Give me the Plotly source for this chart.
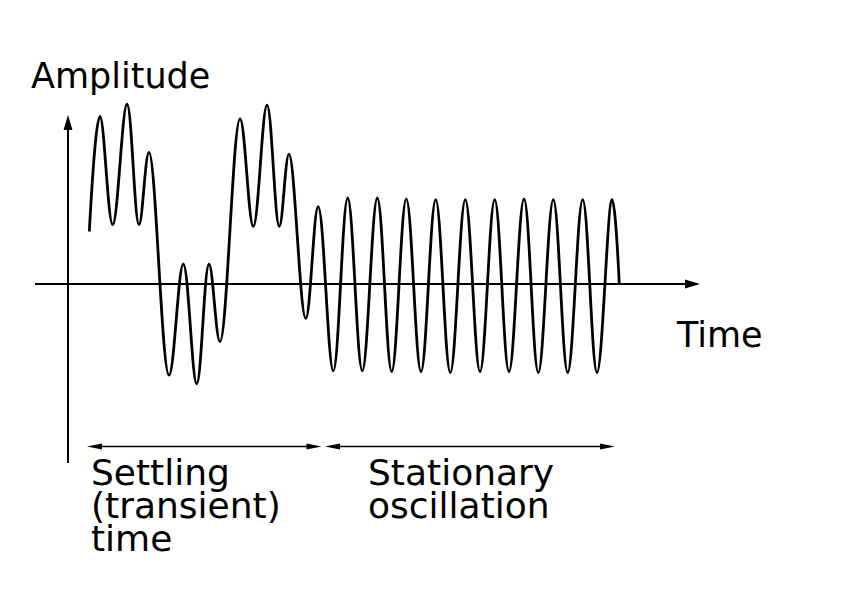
import plotly.graph_objects as go

# ---- data (time in arbitrary units, amplitude relative to the stationary amplitude)
time_pts = [2.13, 3.20, 4.47, 5.90, 7.10, 8.10, 10.10, 11.53, 12.87, 14.10, 15.20,
            17.20, 18.53, 19.90, 21.13, 22.10, 23.77, 25.02, 26.53, 27.97, 29.43,
            30.93, 32.37, 33.83, 35.30, 36.77, 38.23, 39.73, 41.20, 42.67, 44.10,
            45.60, 47.03, 48.53, 49.97, 51.47, 52.90, 54.40, 55.13]
amp_pts = [0.61, 1.95, 0.69, 2.09, 0.69, 1.53, -1.06, 0.23, -1.16, 0.23, -0.67,
           1.92, 0.67, 2.08, 0.67, 1.51, -0.40, 0.90, -1.01, 1.00, -1.01,
           1.00, -1.02, 0.99, -1.02, 0.98, -1.03, 0.98, -1.02, 0.98, -1.02,
           0.99, -1.03, 0.98, -1.03, 0.98, -1.03, 0.98, 0.00]

axis_labels = ["Amplitude", "Time"]
phase_labels = [["Settling", "(transient)", "time"], ["Stationary", "oscillation"]]

# ---- layout geometry (pixels of the 843x597 window)
W, H = 843, 597
PAGE_OFFSET = 8           # default body margin of the html page
OX, OY = 68, 284          # origin of the drawn axes
SX, SY = 10.0, 86.0       # pixels per data unit


def tx(px):
    return (px - OX) / SX


def ay(py):
    return (OY - py) / SY


def head(tip_x, tip_y, dx, dy, length, width):
    bx, by = tip_x - length * dx, tip_y - length * dy
    px_, py_ = -dy, dx
    pts = [(tip_x, tip_y),
           (bx + width / 2 * px_, by + width / 2 * py_),
           (bx - width / 2 * px_, by - width / 2 * py_)]
    path = "M " + " L ".join(f"{tx(x):.4f},{ay(y):.4f}" for x, y in pts) + " Z"
    return dict(type="path", path=path, xref="x", yref="y",
                fillcolor="black", line=dict(width=0), layer="above")


def seg(x0, y0, x1, y1, w):
    return dict(type="line", x0=tx(x0), y0=ay(y0), x1=tx(x1), y1=ay(y1),
                xref="x", yref="y", line=dict(color="black", width=w))


fig = go.Figure()
fig.add_trace(go.Scatter(
    x=time_pts, y=amp_pts, mode="lines",
    line=dict(color="black", width=2.8, shape="spline", smoothing=1.1),
    hoverinfo="skip", showlegend=False))

shapes = [
    # horizontal (time) axis
    seg(35, OY, 690, OY, 2), head(700, OY, 1, 0, 15, 9),
    # vertical (amplitude) axis
    seg(OX, 463, OX, 125, 2), head(OX, 115, 0, -1, 15, 9),
    # settling dimension arrow
    seg(95, 446.5, 313, 446.5, 1.6),
    head(87, 446.5, -1, 0, 15, 6), head(321.5, 446.5, 1, 0, 15, 6),
    # stationary dimension arrow
    seg(333, 446.5, 607, 446.5, 1.6),
    head(325, 446.5, -1, 0, 15, 6), head(615, 446.5, 1, 0, 15, 6),
]

FONT = dict(family="DejaVu Sans", size=36, color="black")


def label(text, left_px, base_px, size=36):
    f = dict(FONT)
    f["size"] = size
    return dict(text=text, x=tx(left_px - 4), y=ay(base_px - 0.346 * size),
                xref="x", yref="y", xanchor="left", yanchor="middle",
                showarrow=False, font=f)


annotations = [
    label(axis_labels[0], 33, 88, 35),
    label(axis_labels[1], 678, 347, 35),
]
for i, t in enumerate(phase_labels[0]):
    annotations.append(label(t, 93, 485 + i * 33))
for i, t in enumerate(phase_labels[1]):
    annotations.append(label(t, 370, 485 + i * 33))

fig.update_layout(
    width=W, height=H,
    margin=dict(l=0, r=0, t=0, b=0),
    paper_bgcolor="white", plot_bgcolor="white",
    xaxis=dict(range=[tx(PAGE_OFFSET), tx(PAGE_OFFSET + W)], visible=False, fixedrange=True),
    yaxis=dict(range=[ay(PAGE_OFFSET + H), ay(PAGE_OFFSET)], visible=False, fixedrange=True),
    shapes=shapes, annotations=annotations,
    showlegend=False,
)

fig.write_html("out.html")
